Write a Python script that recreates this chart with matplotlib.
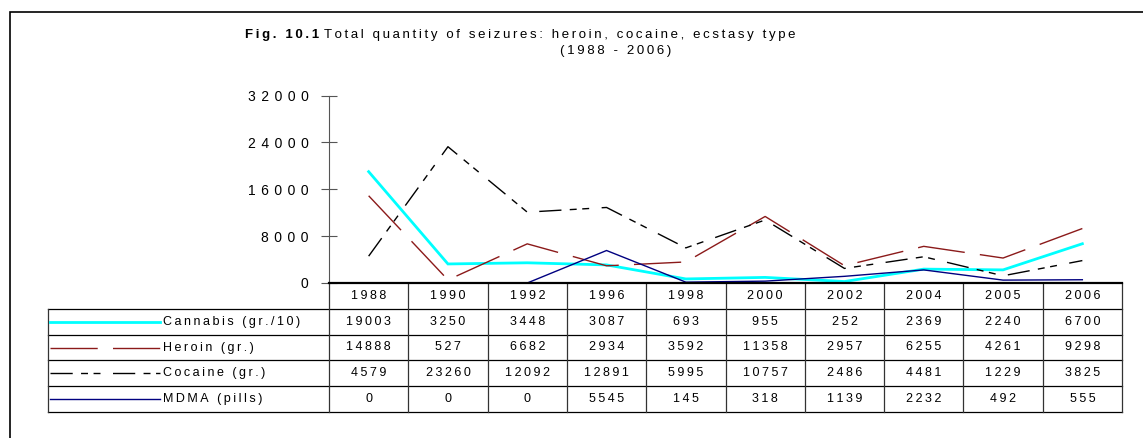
import matplotlib
matplotlib.use('Agg')
import matplotlib.pyplot as plt
from matplotlib.patches import Rectangle
from matplotlib.transforms import blended_transform_factory

# data
years = ['1988', '1990', '1992', '1996', '1998', '2000', '2002', '2004', '2005', '2006']
cannabis = [19003, 3250, 3448, 3087, 693, 955, 252, 2369, 2240, 6700]
heroin = [14888, 527, 6682, 2934, 3592, 11358, 2957, 6255, 4261, 9298]
cocaine = [4579, 23260, 12092, 12891, 5995, 10757, 2486, 4481, 1229, 3825]
mdma = [0, 0, 0, 5545, 145, 318, 1139, 2232, 492, 555]
series_names = ['Cannabis (gr./10)', 'Heroin (gr.)', 'Cocaine (gr.)', 'MDMA (pills)']
y_ticks = [0, 8000, 16000, 24000, 32000]

series = [cannabis, heroin, cocaine, mdma]
colors = ['#00ffff', '#8b1a1a', '#000000', '#000080']
widths = [2.0, 1.0, 1.0, 1.0]
dash_styles = [None, (34, 11), (16, 6, 5, 4, 5, 9), None]

plt.rcParams['font.family'] = ['Liberation Sans', 'DejaVu Sans']

SP = '\u2009'


def spaced(s, n=1):
    # the original text is drawn letter-spaced
    return (SP * n).join(s)


W, H = 1143, 438
fig = plt.figure(figsize=(W / 100, H / 100), dpi=100)
ax_h = 283 - 95.5
ax = fig.add_axes([329 / W, 1 - 283 / H, (1122 - 329) / W, ax_h / H])

x = list(range(len(years)))
for vals, c, lw, d in zip(series, colors, widths, dash_styles):
    line, = ax.plot(x, vals, color=c, lw=lw, zorder=2, solid_joinstyle='miter')
    if d is not None:
        line.set_dashes(d)

ax.set_xlim(-0.5, len(years) - 0.5)
ax.set_ylim(0, 32000)
ax.set_yticks(y_ticks)
ax.set_yticklabels([spaced(str(t), 2) for t in y_ticks], fontsize=10)
ax.set_xticks([])
ax.tick_params(axis='y', direction='inout', length=11.5, width=0.8,
               color='#555555', pad=9)
for s in ['top', 'right']:
    ax.spines[s].set_visible(False)
ax.spines['left'].set_color('#555555')
ax.spines['left'].set_linewidth(0.8)
ax.spines['bottom'].set_linewidth(1.6)
ax.spines['bottom'].set_zorder(3)

# data table below the axis
rh = 25.8 / ax_h
left = (47.7 - 329) / 793
blend = blended_transform_factory(ax.transData, ax.transAxes)
nrows = 1 + len(series)

for k in range(1, nrows + 1):
    ax.plot([left, 1], [-k * rh, -k * rh], color='black', lw=0.9,
            transform=ax.transAxes, clip_on=False)
for i in range(len(years) + 1):
    ax.plot([i - 0.5, i - 0.5], [0, -nrows * rh], color='#333333', lw=0.9,
            transform=blend, clip_on=False)
ax.plot([left, left], [-rh, -nrows * rh], color='#333333', lw=0.9,
        transform=ax.transAxes, clip_on=False)

for i, yr in enumerate(years):
    ax.text(i, -0.5 * rh, spaced(yr), ha='center', va='center', fontsize=9,
            transform=blend)
for r, (name, vals, c, lw, d) in enumerate(zip(series_names, series, colors,
                                                 widths, dash_styles)):
    yc = -(r + 1.5) * rh
    for i, v in enumerate(vals):
        ax.text(i, yc, spaced(str(v)), ha='center', va='center', fontsize=9,
                transform=blend)
    sample, = ax.plot([(50 - 329) / 793, (160 - 329) / 793], [yc, yc],
                      color=c, lw=lw, transform=ax.transAxes, clip_on=False)
    if d is not None:
        sample.set_dashes(d)
    ax.text((163 - 329) / 793, yc, spaced(name), ha='left', va='center',
            fontsize=9, transform=ax.transAxes)

# title
t1 = fig.text(245 / W, 1 - 38 / H, spaced('Fig. 10.1'), fontsize=9.5,
              weight='bold', va='baseline')
fig.text(0, 0, '')
ax.annotate(spaced('Total quantity of seizures: heroin, cocaine, ecstasy type'),
            xy=(1, 0), xycoords=t1, xytext=(5, 0), textcoords='offset pixels',
            fontsize=9.5, va='bottom', ha='left', annotation_clip=False)
fig.text(616 / W, 1 - 54 / H, spaced('(1988 - 2006)'), fontsize=9.5,
         ha='center', va='baseline')

# outer frame of the chart area (cut by the image edges)
fig.patches.append(Rectangle((10 / W, -0.2), 1.5, 1.2 - 12 / H,
                             transform=fig.transFigure, fill=False,
                             lw=1.2, edgecolor='black'))

fig.savefig('out.png', dpi=100)
